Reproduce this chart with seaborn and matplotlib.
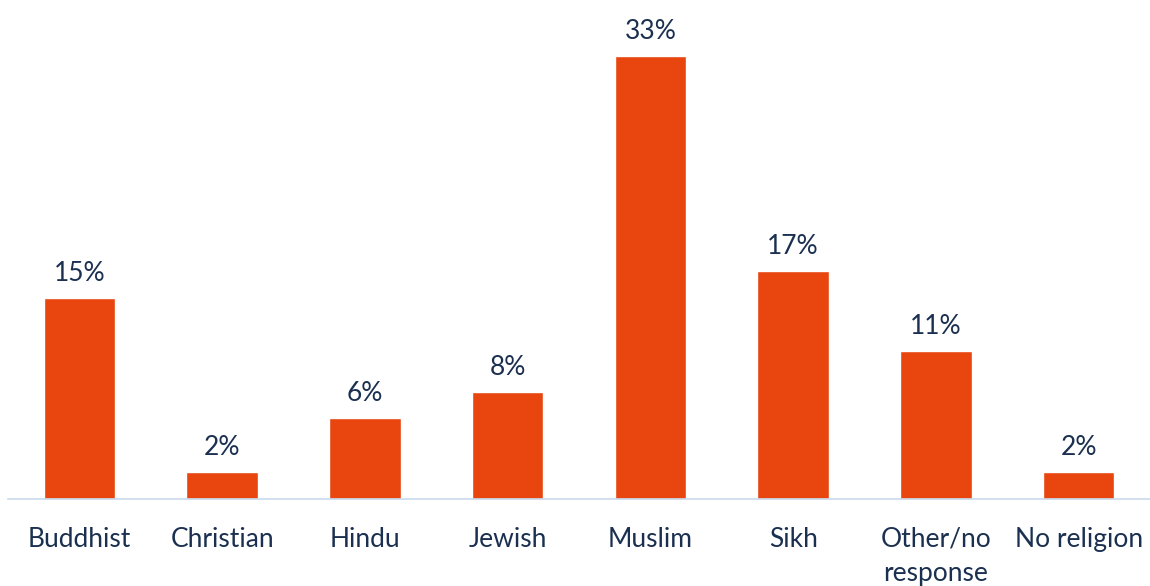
import matplotlib
matplotlib.use("Agg")
import matplotlib.pyplot as plt
import seaborn as sns
import pandas as pd

# Data
religions = ["Buddhist", "Christian", "Hindu", "Jewish", "Muslim", "Sikh",
             "Other/no\nresponse", "No religion"]
shares = [15, 2, 6, 8, 33, 17, 11, 2]

df = pd.DataFrame({"religion": religions, "share": shares})

sns.set_theme(style="white")
plt.rcParams["font.family"] = ["Lato", "DejaVu Sans"]

text_color = "#1B3050"
bar_color = "#E8450F"

fig = plt.figure(figsize=(11.5, 5.86), dpi=100)
ax = fig.add_axes([8 / 1150, 0.1485, 1 - 8 / 1150, 0.8])

sns.barplot(data=df, x="religion", y="share", color=bar_color,
            saturation=1, width=0.5, ax=ax)

for i, v in enumerate(shares):
    ax.text(i, v + 0.9, f"{v}%", ha="center", va="bottom",
            fontsize=19, color=text_color)

ax.set_xlim(-0.5, len(religions) - 0.5)
ax.set_ylim(0, 34.95)
ax.set_xlabel("")
ax.set_ylabel("")
ax.set_yticks([])
ax.tick_params(axis="x", length=0, pad=20, labelsize=19, labelcolor=text_color)
for lbl in ax.get_xticklabels():
    lbl.set_verticalalignment("top")
    lbl.set_linespacing(1.45)

for side in ["top", "right", "left"]:
    ax.spines[side].set_visible(False)
ax.spines["bottom"].set_color("#C9D9EC")
ax.spines["bottom"].set_linewidth(1.2)

fig.savefig("out.png", dpi=100)
